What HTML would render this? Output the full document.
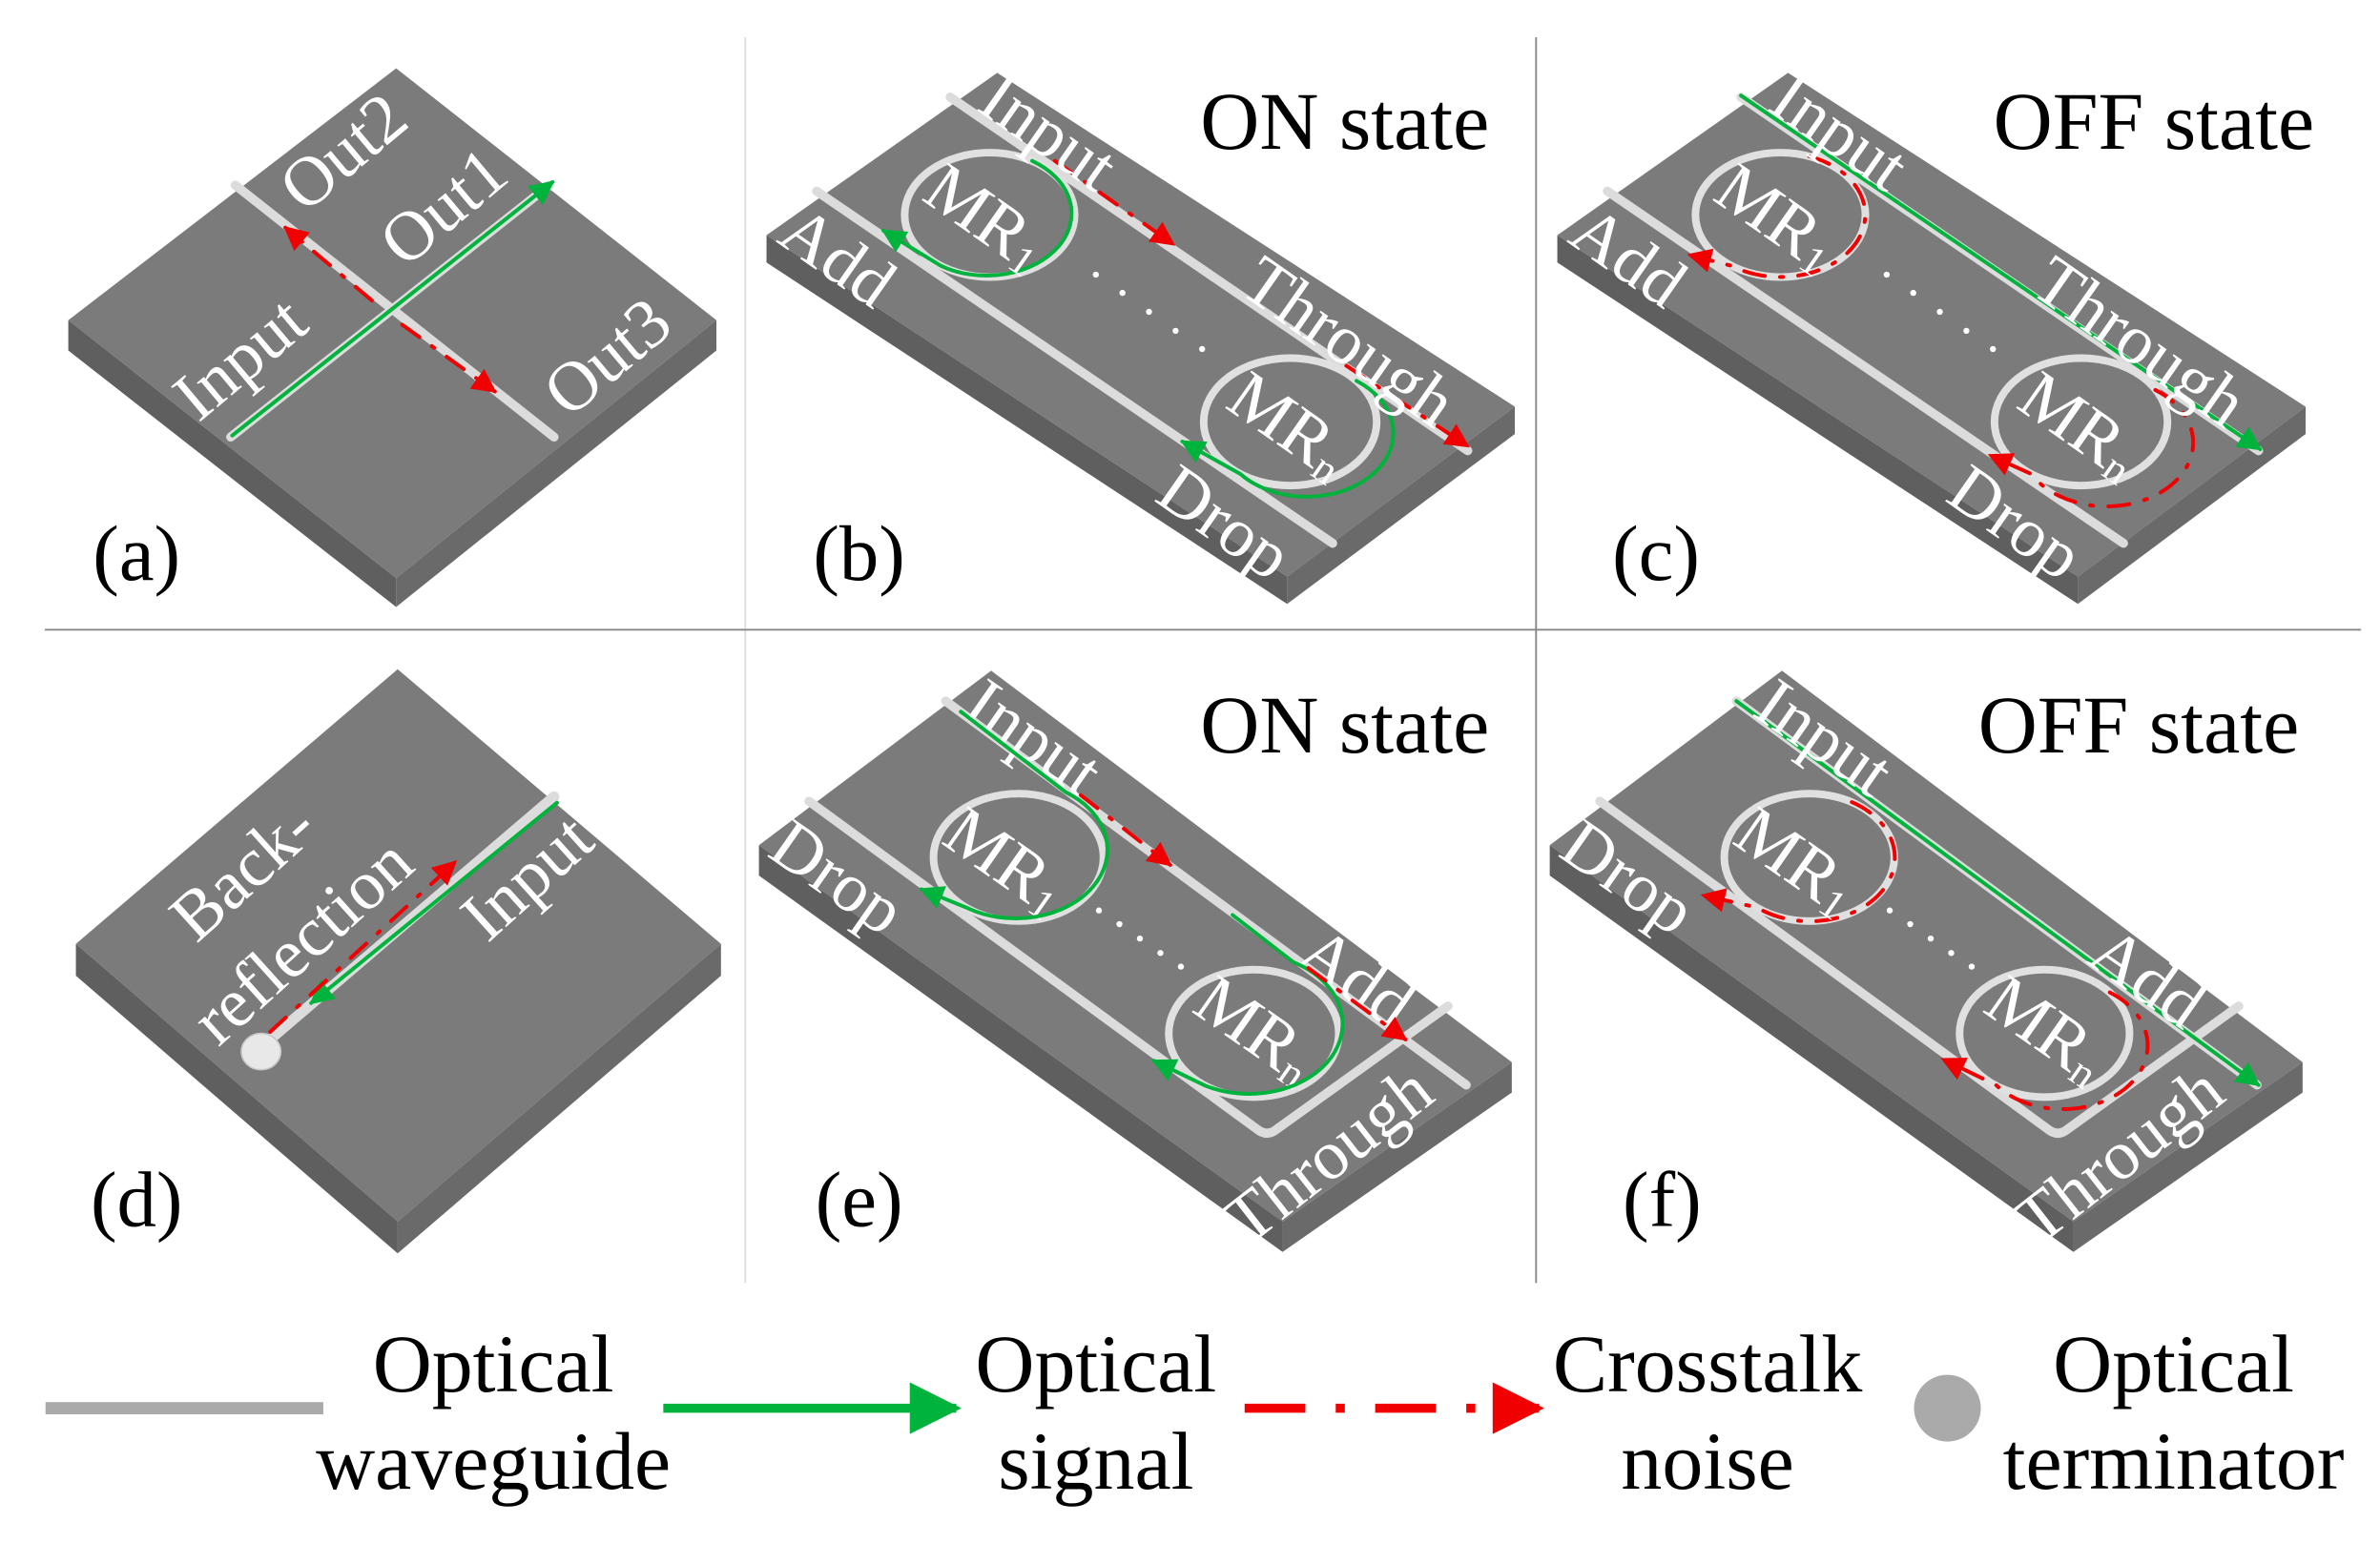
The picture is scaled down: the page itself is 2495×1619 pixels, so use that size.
<!DOCTYPE html>
<html><head><meta charset="utf-8"><style>
html,body{margin:0;padding:0;background:#fff;}
svg{display:block;}
.w{font-family:"Liberation Serif",serif;fill:#fff;font-size:46px;}
.k{font-family:"Liberation Serif",serif;fill:#000;}
</style></head><body>
<svg width="2495" height="1619" viewBox="0 0 1568 1017.5" preserveAspectRatio="none" xmlns="http://www.w3.org/2000/svg">
<defs>
<marker id="ag" viewBox="0 0 10 10" refX="9" refY="5" markerWidth="20" markerHeight="16" markerUnits="userSpaceOnUse" orient="auto"><path d="M0,0 L10,5 L0,10 Z" fill="#00b33c"/></marker>
<marker id="ar" viewBox="0 0 10 10" refX="9" refY="5" markerWidth="20" markerHeight="16" markerUnits="userSpaceOnUse" orient="auto"><path d="M0,0 L10,5 L0,10 Z" fill="#f00000"/></marker>
<marker id="agL" viewBox="0 0 10 10" refX="9" refY="5" markerWidth="40" markerHeight="34" markerUnits="userSpaceOnUse" orient="auto"><path d="M0,0 L10,5 L0,10 Z" fill="#00b33c"/></marker>
<marker id="arL" viewBox="0 0 10 10" refX="9" refY="5" markerWidth="40" markerHeight="34" markerUnits="userSpaceOnUse" orient="auto"><path d="M0,0 L10,5 L0,10 Z" fill="#f00000"/></marker>
</defs>
<g stroke-linecap="round" fill="none">
<line x1="491" y1="25" x2="491" y2="845" stroke="#ddd" stroke-width="1.2"/>
<line x1="1012" y1="25" x2="1012" y2="845" stroke="#888" stroke-width="1.2"/>
<line x1="30" y1="415" x2="1555" y2="415" stroke="#888" stroke-width="1.2"/>
</g>

<!-- ===== Panel a ===== -->
<polygon points="45,211 261,381 261,400 45,231" fill="#5f5f5f"/>
<polygon points="261,381 472,211 472,231 261,400" fill="#6a6a6a"/>
<polygon points="261,45 472,211 261,381 45,211" fill="#7b7b7b"/>
<g stroke-linecap="round" fill="none">
<line x1="155" y1="122" x2="365" y2="288" stroke="#dcdcdc" stroke-width="6"/>
<line x1="152" y1="288" x2="362" y2="122" stroke="#dcdcdc" stroke-width="6"/>
<line x1="153" y1="287" x2="364" y2="120" stroke="#00b33c" stroke-width="2.5" marker-end="url(#ag)"/>
<line x1="245" y1="198" x2="188" y2="150" stroke="#f00000" stroke-width="2.5" stroke-dasharray="14,10,2,10" marker-end="url(#ar)"/>
<line x1="265" y1="214" x2="326" y2="258" stroke="#f00000" stroke-width="2.5" stroke-dasharray="14,10,2,10" marker-end="url(#ar)"/>
</g>
<text class="w" transform="translate(226,100) rotate(-40)" text-anchor="middle" dominant-baseline="central">Out2</text>
<text class="w" transform="translate(292,136) rotate(-40)" text-anchor="middle" dominant-baseline="central">Out1</text>
<text class="w" transform="translate(158,236) rotate(-40)" text-anchor="middle" dominant-baseline="central">Input</text>
<text class="w" transform="translate(400,235) rotate(-40)" text-anchor="middle" dominant-baseline="central">Out3</text>
<text class="k" x="90" y="382" font-size="52" text-anchor="middle">(a)</text>

<!-- ===== Panel b ===== -->
<polygon points="505,155 848,380 848,398 505,173" fill="#5f5f5f"/>
<polygon points="848,380 998,268 998,286 848,398" fill="#6a6a6a"/>
<polygon points="657,48 998,268 848,380 505,155" fill="#7b7b7b"/>
<g stroke-linecap="round" fill="none">
<line x1="626" y1="64" x2="967" y2="297" stroke="#dcdcdc" stroke-width="6"/>
<line x1="538" y1="126" x2="878" y2="358" stroke="#dcdcdc" stroke-width="6"/>
<ellipse cx="652" cy="141.6" rx="56" ry="41" stroke="#e0e0e0" stroke-width="5"/>
<ellipse cx="850" cy="278" rx="57" ry="42" stroke="#e0e0e0" stroke-width="5"/>
<path d="M680,106 A56 41 0 1 1 619.9,175.2 L582,152" stroke="#00b33c" stroke-width="2.5" marker-end="url(#ag)"/>
<path d="M893.7,251 A57 42 0 1 1 817.3,312.4 L779,291" stroke="#00b33c" stroke-width="2.5" marker-end="url(#ag)"/>
<line x1="695" y1="106" x2="773" y2="161" stroke="#f00000" stroke-width="2.5" stroke-dasharray="14,10,2,10" marker-end="url(#ar)"/>
<line x1="887" y1="241" x2="967" y2="294" stroke="#f00000" stroke-width="2.5" stroke-dasharray="14,10,2,10" marker-end="url(#ar)"/>
</g>
<g fill="#fff"><circle cx="722" cy="181" r="2"/><circle cx="739.5" cy="193" r="2"/><circle cx="757" cy="205.5" r="2"/><circle cx="774.5" cy="218" r="2"/><circle cx="792" cy="230" r="2"/></g>
<text class="w" transform="translate(691,87) rotate(35)" text-anchor="middle" dominant-baseline="central">Input</text>
<text class="w" transform="translate(552,169) rotate(35)" text-anchor="middle" dominant-baseline="central">Add</text>
<text class="w" transform="translate(889,225) rotate(35)" text-anchor="middle" dominant-baseline="central">Through</text>
<text class="w" transform="translate(807,344) rotate(35)" text-anchor="middle" dominant-baseline="central">Drop</text>
<text class="w" transform="translate(650,143) rotate(35)" text-anchor="middle" dominant-baseline="central">MR<tspan font-size="28" dy="10">1</tspan></text>
<text class="w" transform="translate(850,280) rotate(35)" text-anchor="middle" dominant-baseline="central">MR<tspan font-size="28" dy="10">n</tspan></text>
<text class="k" x="886" y="98" font-size="54" text-anchor="middle">ON state</text>
<text class="k" x="566" y="382" font-size="52" text-anchor="middle">(b)</text>

<!-- ===== Panel c ===== -->
<g transform="translate(521,0)">
<polygon points="505,155 848,380 848,398 505,173" fill="#5f5f5f"/>
<polygon points="848,380 998,268 998,286 848,398" fill="#6a6a6a"/>
<polygon points="657,48 998,268 848,380 505,155" fill="#7b7b7b"/>
<g stroke-linecap="round" fill="none">
<line x1="626" y1="64" x2="967" y2="297" stroke="#dcdcdc" stroke-width="6"/>
<line x1="538" y1="126" x2="878" y2="358" stroke="#dcdcdc" stroke-width="6"/>
<ellipse cx="652" cy="141.6" rx="56" ry="41" stroke="#e0e0e0" stroke-width="5"/>
<ellipse cx="850" cy="278" rx="57" ry="42" stroke="#e0e0e0" stroke-width="5"/>
<line x1="626" y1="63" x2="968" y2="296" stroke="#00b33c" stroke-width="2.5" marker-end="url(#ag)"/>
<path d="M671,103 A56 41 0 1 1 619.9,175.2 L592,168" stroke="#f00000" stroke-width="2.5" stroke-dasharray="14,10,2,10" marker-end="url(#ar)"/>
<path d="M899,257 A57 42 0 1 1 817.3,312.4 L790,300" stroke="#f00000" stroke-width="2.5" stroke-dasharray="14,10,2,10" marker-end="url(#ar)"/>
</g>
<g fill="#fff"><circle cx="722" cy="181" r="2"/><circle cx="739.5" cy="193" r="2"/><circle cx="757" cy="205.5" r="2"/><circle cx="774.5" cy="218" r="2"/><circle cx="792" cy="230" r="2"/></g>
<text class="w" transform="translate(691,87) rotate(35)" text-anchor="middle" dominant-baseline="central">Input</text>
<text class="w" transform="translate(552,169) rotate(35)" text-anchor="middle" dominant-baseline="central">Add</text>
<text class="w" transform="translate(889,225) rotate(35)" text-anchor="middle" dominant-baseline="central">Through</text>
<text class="w" transform="translate(807,344) rotate(35)" text-anchor="middle" dominant-baseline="central">Drop</text>
<text class="w" transform="translate(650,143) rotate(35)" text-anchor="middle" dominant-baseline="central">MR<tspan font-size="28" dy="10">1</tspan></text>
<text class="w" transform="translate(850,280) rotate(35)" text-anchor="middle" dominant-baseline="central">MR<tspan font-size="28" dy="10">n</tspan></text>
<text class="k" x="898" y="98" font-size="54" text-anchor="middle">OFF state</text>
<text class="k" x="570" y="382" font-size="52" text-anchor="middle">(c)</text>
</g>

<!-- ===== Panel d ===== -->
<polygon points="50,622 262,805 262,826 50,643" fill="#5f5f5f"/>
<polygon points="262,805 475,622 475,643 262,826" fill="#6a6a6a"/>
<polygon points="262,441 475,622 262,805 50,622" fill="#7b7b7b"/>
<g stroke-linecap="round" fill="none">
<line x1="365" y1="525" x2="172" y2="690" stroke="#dcdcdc" stroke-width="7"/>
<line x1="367" y1="529" x2="205" y2="661" stroke="#00b33c" stroke-width="2.5" marker-end="url(#ag)"/>
<line x1="178" y1="680" x2="300" y2="568" stroke="#f00000" stroke-width="2.5" stroke-dasharray="14,10,2,10" marker-end="url(#ar)"/>
</g>
<ellipse cx="172" cy="693" rx="13" ry="12" fill="#e8e8e8" stroke="#c8c8c8" stroke-width="1"/>
<text class="w" transform="translate(160,574) rotate(-42)" text-anchor="middle" dominant-baseline="central">Back-</text>
<text class="w" transform="translate(199,620) rotate(-42)" text-anchor="middle" dominant-baseline="central">reflection</text>
<text class="w" transform="translate(347,578) rotate(-42)" text-anchor="middle" dominant-baseline="central">Input</text>
<text class="k" x="90" y="808" font-size="52" text-anchor="middle">(d)</text>

<!-- ===== Panel e ===== -->
<polygon points="500,557 845,805 845,825 500,577" fill="#5f5f5f"/>
<polygon points="845,805 996,700 996,720 845,825" fill="#6a6a6a"/>
<polygon points="653,442 996,700 845,805 500,557" fill="#7b7b7b"/>
<g stroke-linecap="round" stroke-linejoin="round" fill="none">
<line x1="623" y1="462" x2="966" y2="715" stroke="#dcdcdc" stroke-width="6"/>
<path d="M533,528 L828,744 Q834,749 840,745 L954,663" stroke="#dcdcdc" stroke-width="6"/>
<ellipse cx="671" cy="565" rx="56" ry="42" stroke="#e0e0e0" stroke-width="5"/>
<ellipse cx="826" cy="681" rx="56" ry="42" stroke="#e0e0e0" stroke-width="5"/>
</g>
<g fill="#fff"><circle cx="724" cy="600" r="2"/><circle cx="737.5" cy="609" r="2"/><circle cx="751" cy="618.5" r="2"/><circle cx="764.5" cy="628" r="2"/><circle cx="778" cy="637" r="2"/></g>
<text class="w" transform="translate(681,486) rotate(35)" text-anchor="middle" dominant-baseline="central">Input</text>
<text class="w" transform="translate(552,578) rotate(35)" text-anchor="middle" dominant-baseline="central">Drop</text>
<text class="w" transform="translate(894,644) rotate(35)" text-anchor="middle" dominant-baseline="central">Add</text>
<text class="w" transform="translate(875,761) rotate(-38)" text-anchor="middle" dominant-baseline="central">Through</text>
<text class="w" transform="translate(663,567) rotate(35)" text-anchor="middle" dominant-baseline="central">MR<tspan font-size="28" dy="10">1</tspan></text>
<text class="w" transform="translate(828,678) rotate(35)" text-anchor="middle" dominant-baseline="central">MR<tspan font-size="28" dy="10">n</tspan></text>
<g stroke-linecap="round" fill="none">
<path d="M633,469 L702,522 A56 42 0 1 1 636.5,598 L607,586" stroke="#00b33c" stroke-width="2.5" marker-end="url(#ag)"/>
<path d="M812,603 L852,634 A56 42 0 1 1 793.9,715.4 L760,699" stroke="#00b33c" stroke-width="2.5" marker-end="url(#ag)"/>
<line x1="712" y1="524" x2="771" y2="570" stroke="#f00000" stroke-width="2.5" stroke-dasharray="14,10,2,10" marker-end="url(#ar)"/>
<line x1="862" y1="638" x2="926" y2="685" stroke="#f00000" stroke-width="2.5" stroke-dasharray="14,10,2,10" marker-end="url(#ar)"/>
</g>
<text class="k" x="886" y="496" font-size="54" text-anchor="middle">ON state</text>
<text class="k" x="566" y="808" font-size="52" text-anchor="middle">(e)</text>

<!-- ===== Panel f ===== -->
<g transform="translate(521,0)">
<polygon points="500,557 845,805 845,825 500,577" fill="#5f5f5f"/>
<polygon points="845,805 996,700 996,720 845,825" fill="#6a6a6a"/>
<polygon points="653,442 996,700 845,805 500,557" fill="#7b7b7b"/>
<g stroke-linecap="round" stroke-linejoin="round" fill="none">
<line x1="623" y1="462" x2="966" y2="715" stroke="#dcdcdc" stroke-width="6"/>
<path d="M533,528 L828,744 Q834,749 840,745 L954,663" stroke="#dcdcdc" stroke-width="6"/>
<ellipse cx="671" cy="565" rx="56" ry="42" stroke="#e0e0e0" stroke-width="5"/>
<ellipse cx="826" cy="681" rx="56" ry="42" stroke="#e0e0e0" stroke-width="5"/>
<line x1="623" y1="462" x2="967" y2="715" stroke="#00b33c" stroke-width="2.5" marker-end="url(#ag)"/>
<path d="M699,528.6 A56 42 0 1 1 636.5,598 L601,590" stroke="#f00000" stroke-width="2.5" stroke-dasharray="14,10,2,10" marker-end="url(#ar)"/>
<path d="M869,654 A56 42 0 1 1 794,715 L759,698" stroke="#f00000" stroke-width="2.5" stroke-dasharray="14,10,2,10" marker-end="url(#ar)"/>
</g>
<g fill="#fff"><circle cx="724" cy="600" r="2"/><circle cx="737.5" cy="609" r="2"/><circle cx="751" cy="618.5" r="2"/><circle cx="764.5" cy="628" r="2"/><circle cx="778" cy="637" r="2"/></g>
<text class="w" transform="translate(681,486) rotate(35)" text-anchor="middle" dominant-baseline="central">Input</text>
<text class="w" transform="translate(552,578) rotate(35)" text-anchor="middle" dominant-baseline="central">Drop</text>
<text class="w" transform="translate(894,644) rotate(35)" text-anchor="middle" dominant-baseline="central">Add</text>
<text class="w" transform="translate(875,761) rotate(-38)" text-anchor="middle" dominant-baseline="central">Through</text>
<text class="w" transform="translate(663,567) rotate(35)" text-anchor="middle" dominant-baseline="central">MR<tspan font-size="28" dy="10">1</tspan></text>
<text class="w" transform="translate(828,678) rotate(35)" text-anchor="middle" dominant-baseline="central">MR<tspan font-size="28" dy="10">n</tspan></text>
<text class="k" x="888" y="496" font-size="54" text-anchor="middle">OFF state</text>
<text class="k" x="574" y="808" font-size="52" text-anchor="middle">(f)</text>
</g>

<!-- ===== Legend ===== -->
<line x1="30" y1="928" x2="213" y2="928" stroke="#aaaaaa" stroke-width="8"/>
<text class="k" x="325" y="917" font-size="54" text-anchor="middle">Optical</text>
<text class="k" x="325" y="981" font-size="54" text-anchor="middle">waveguide</text>
<line x1="437" y1="928" x2="630" y2="928" stroke="#00b33c" stroke-width="6" marker-end="url(#agL)"/>
<text class="k" x="722" y="917" font-size="54" text-anchor="middle">Optical</text>
<text class="k" x="722" y="981" font-size="54" text-anchor="middle">signal</text>
<line x1="820" y1="928" x2="1014" y2="928" stroke="#f00000" stroke-width="6" stroke-dasharray="40,20,6,20" marker-end="url(#arL)"/>
<text class="k" x="1125" y="917" font-size="54" text-anchor="middle">Crosstalk</text>
<text class="k" x="1125" y="981" font-size="54" text-anchor="middle">noise</text>
<circle cx="1283" cy="928" r="22" fill="#aaaaaa"/>
<text class="k" x="1432" y="917" font-size="54" text-anchor="middle">Optical</text>
<text class="k" x="1432" y="981" font-size="54" text-anchor="middle">terminator</text>
</svg>
</body></html>
